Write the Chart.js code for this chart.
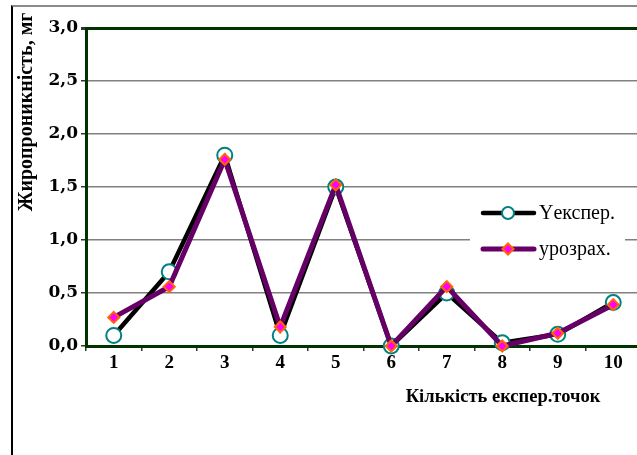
<!DOCTYPE html>
<html lang="uk">
<head>
    <meta charset="UTF-8">
    <title>Жиропроникність</title>
    <script src="https://cdn.jsdelivr.net/npm/chart.js"></script>
    <style>
        html, body {
            margin: 0;
            padding: 0;
            background: #ffffff;
            overflow: hidden;
        }
        /* thin frame of the original document chart */
        .frame {
            position: absolute;
            left: 11px;
            top: 5px;
            width: 640px;
            height: 460px;
            border-top: 2px solid #8a8a8a;
            border-left: 2px solid #000000;
        }
        .wrap {
            position: absolute;
            left: 0;
            top: 0;
            width: 660px;
            height: 455px;
        }
    </style>
</head>
<body>
    <div class="frame"></div>
    <div class="wrap"><canvas id="myChart"></canvas></div>

    <script>
        // data
        const points = ['1', '2', '3', '4', '5', '6', '7', '8', '9', '10'];
        const yExper = [0.10, 0.70, 1.80, 0.10, 1.50, 0.00, 0.50, 0.03, 0.11, 0.41];
        const yCalc = [0.27, 0.56, 1.76, 0.18, 1.52, 0.00, 0.56, 0.00, 0.12, 0.39];
        const seriesNames = ['Yекспер.', 'урозрах.'];
        const yTitle = 'Жиропроникність, мг';
        const xTitle = 'Кількість експер.точок';

        const axisGreen = '#003300';
        const gridGrey = '#808080';

        // axis titles and the legend box are drawn here
        const extras = {
            id: 'extras',
            afterDraw(chart) {
                const ctx = chart.ctx;
                ctx.save();
                ctx.fillStyle = '#000';
                ctx.textAlign = 'center';
                ctx.textBaseline = 'middle';
                ctx.font = 'bold 20px "Liberation Serif"';
                ctx.save();
                ctx.translate(27, 112);
                ctx.rotate(-Math.PI / 2);
                ctx.fillText(yTitle, 0, 0);
                ctx.restore();
                ctx.font = 'bold 18.5px "Liberation Serif"';
                ctx.fillText(xTitle, 503, 397);

                // legend
                ctx.fillStyle = '#ffffff';
                ctx.fillRect(470, 190, 155, 72);
                const rows = [213, 249];
                chart.data.datasets.forEach(function (ds) {
                    const y = rows[ds.legendRow];
                    ctx.strokeStyle = ds.borderColor;
                    ctx.lineWidth = ds.borderWidth;
                    ctx.lineCap = 'round';
                    ctx.beginPath();
                    ctx.moveTo(483, y);
                    ctx.lineTo(534, y);
                    ctx.stroke();
                    ctx.fillStyle = ds.pointBackgroundColor;
                    ctx.strokeStyle = ds.pointBorderColor;
                    ctx.lineWidth = ds.pointBorderWidth;
                    Chart.helpers.drawPoint(ctx, {
                        pointStyle: ds.pointStyle,
                        radius: ds.legendRadius,
                        rotation: 0,
                        borderWidth: ds.pointBorderWidth
                    }, 508, y);
                    ctx.fillStyle = '#000';
                    ctx.font = '20px "Liberation Serif"';
                    ctx.textAlign = 'left';
                    ctx.fillText(ds.label, 539, y + 1);
                });
                ctx.restore();
            }
        };

        const config = {
            type: 'line',
            data: {
                labels: points,
                datasets: [{
                    label: seriesNames[0],
                    data: yExper,
                    borderColor: '#000000',
                    borderWidth: 4.5,
                    pointStyle: 'circle',
                    pointRadius: 7.5,
                    legendRadius: 6,
                    pointBorderWidth: 2,
                    pointBorderColor: '#008080',
                    pointBackgroundColor: '#ffffff',
                    tension: 0,
                    clip: false,
                    order: 1,
                    legendRow: 0
                }, {
                    label: seriesNames[1],
                    data: yCalc,
                    borderColor: '#660066',
                    borderWidth: 5,
                    pointStyle: 'rectRot',
                    pointRadius: 5.5,
                    legendRadius: 5.5,
                    pointBorderWidth: 2,
                    pointBorderColor: '#ff6600',
                    pointBackgroundColor: '#ff00ff',
                    tension: 0,
                    clip: false,
                    order: 0,
                    legendRow: 1
                }]
            },
            options: {
                responsive: true,
                maintainAspectRatio: false,
                animation: false,
                layout: { padding: { left: 0, top: 28, right: 19, bottom: 0 } },
                plugins: {
                    legend: { display: false },
                    tooltip: { enabled: false }
                },
                scales: {
                    x: {
                        offset: true,
                        grid: {
                            offset: true,
                            drawOnChartArea: false,
                            drawTicks: true,
                            tickLength: 5,
                            tickColor: '#333333',
                            lineWidth: 1.5
                        },
                        border: { color: axisGreen, width: 3 },
                        ticks: {
                            color: '#000',
                            padding: 1,
                            maxRotation: 0,
                            font: { family: '"Liberation Serif"', size: 19, weight: 'bold' }
                        },
                        afterFit: function (scale) { scale.height = 109; }
                    },
                    y: {
                        min: 0,
                        max: 3,
                        grid: {
                            color: function (c) { return c.tick.value === 3 ? axisGreen : gridGrey; },
                            lineWidth: function (c) { return c.tick.value === 3 ? 3 : 1.5; },
                            tickColor: '#333333',
                            tickLength: 5
                        },
                        border: { color: axisGreen, width: 3 },
                        ticks: {
                            stepSize: 0.5,
                            color: '#000',
                            padding: 3,
                            font: { family: '"DejaVu Serif"', size: 17, weight: 'bold' },
                            callback: function (v) { return v.toFixed(1).replace('.', ','); }
                        },
                        afterFit: function (scale) { scale.width = 86; }
                    }
                }
            },
            plugins: [extras]
        };

        var myChart = new Chart(document.getElementById('myChart'), config);
    </script>
</body>
</html>
